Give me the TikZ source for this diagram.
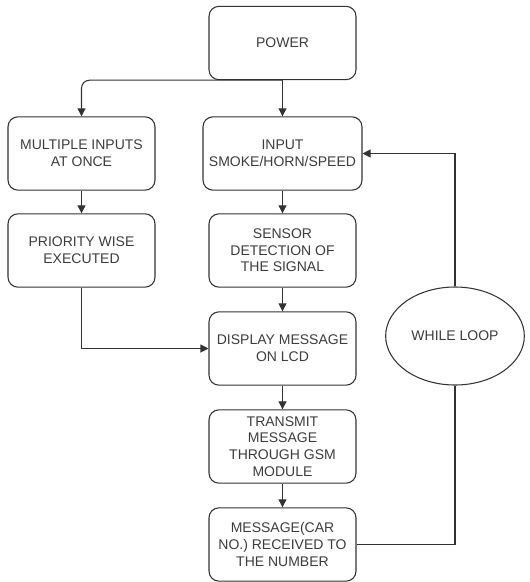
\documentclass[tikz,border=0pt]{standalone}
\usepackage{fontspec}
\setmainfont{Liberation Sans}
\usetikzlibrary{arrows.meta,shapes.geometric}
\definecolor{FlowLine}{HTML}{333333}
\definecolor{FlowText}{HTML}{3C3C3C}
\tikzset{
  flowbox/.style={draw=FlowLine, line width=0.8pt, rounded corners=7.5pt,
    minimum width=110.25pt, minimum height=55pt, inner sep=1pt,
    align=center, text=FlowText, font=\fontsize{10.5}{12.5}\selectfont},
  loopnode/.style={ellipse, draw=FlowLine, line width=0.8pt,
    minimum width=104pt, minimum height=73.5pt, inner sep=0pt,
    text=FlowText, font=\fontsize{10.5}{12.5}\selectfont},
  flowline/.style={draw=FlowLine, line width=0.8pt},
  flowarrow/.style={flowline, -{Triangle[length=6pt,width=6pt]}}
}

\begin{document}
\begin{tikzpicture}[x=0.75pt,y=-0.75pt]
        \useasboundingbox (0,0) rectangle (530,582);
        % main column
        \node[flowbox] (power) at (282.5,43) {POWER};
        \node[flowbox, minimum width=119.25pt] (input) at (282.5,153.5) {INPUT\\SMOKE/HORN/SPEED};
        \node[flowbox] (sensor) at (282.5,250.5) {SENSOR\\DETECTION OF\\THE SIGNAL};
        \node[flowbox] (display) at (282.5,348.5) {DISPLAY MESSAGE\\ON LCD};
        \node[flowbox] (transmit) at (282.5,446.5) {TRANSMIT\\MESSAGE\\THROUGH GSM\\MODULE};
        \node[flowbox] (message) at (282.5,544.5) {MESSAGE(CAR\\NO.) RECEIVED TO\\THE NUMBER};
        % left column
        \node[flowbox] (multi) at (81.5,153.5) {MULTIPLE INPUTS\\AT ONCE};
        \node[flowbox] (prio) at (81.5,250.5) {PRIORITY WISE\\EXECUTED};
        % loop
        \node[loopnode] (loop) at (455,336) {WHILE LOOP};

        \draw[flowarrow] (power) -- (input);
        \draw[flowarrow, rounded corners=6pt] (power.south) -| (multi.north);
        \draw[flowarrow] (multi) -- (prio);
        \draw[flowarrow] (input) -- (sensor);
        \draw[flowarrow] (sensor) -- (display);
        \draw[flowarrow] (prio.south) |- (display.west);
        \draw[flowarrow] (display) -- (transmit);
        \draw[flowarrow] (transmit) -- (message);
        \draw[flowline] (message.east) -| (loop.south);
        \draw[flowarrow] (loop.north) |- (input.east);
    \end{tikzpicture}
\end{document}
